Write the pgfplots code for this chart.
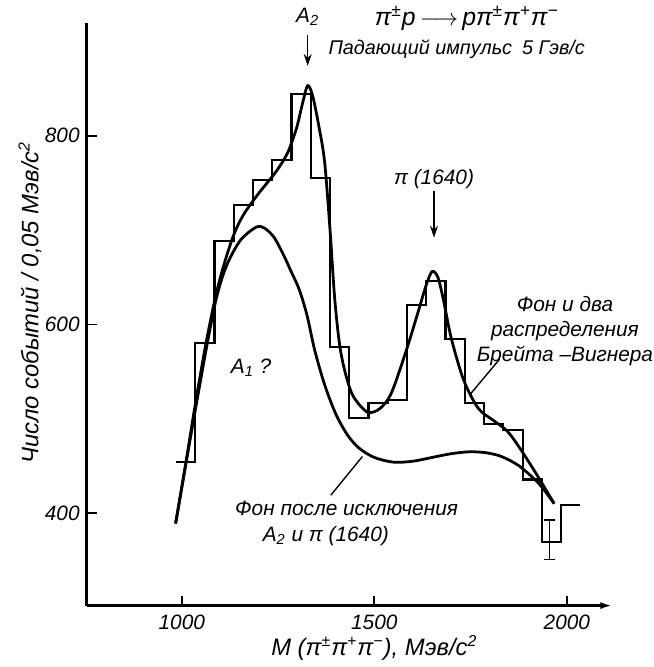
\documentclass[border=0pt]{standalone}
\usepackage{pgfplots}
\pgfplotsset{compat=1.18}
\usepackage{pgfplotstable}
\usepackage{fontspec}
\setmainfont{Liberation Sans}
\usetikzlibrary{arrows.meta}

% histogram: left bin edges, last row closes the last bin
\pgfplotstableread{
x y
985 454.6
1035 580.6
1085 688.7
1135 726.5
1185 752.8
1235 773.8
1285 844.1
1335 754.9
1385 576.4
1435 500.8
1485 516.5
1535 519.7
1585 620.5
1635 645.7
1685 584.8
1735 516.5
1785 494.5
1835 488.2
1885 435.7
1935 369.6
1985 408.4
2035 408.4
}\hist

% background + two Breit-Wigner fit
\pgfplotstableread{
x y
984 389
1010 452
1035 515
1062 578
1088 630
1110 664
1135 695
1160 716
1198 738
1245 762
1275 782
1298 808
1314 835
1327 853
1340 842
1356 810
1371 772
1385 700
1397 628
1410 578
1425 548
1445 524
1482 507
1515 511
1545 528
1585 575
1615 615
1635 642
1650 656
1665 650
1680 625
1700 585
1732 541
1770 511
1810 498
1845 487
1876 470
1920 442
1967 410
}\fit

% background after removing A2 and pi(1640)
\pgfplotstableread{
x y
984 389
1023 481
1064 575
1090 628
1116 662
1152 689
1193 703
1215 702
1240 692
1265 673
1284 656
1305 637
1325 610
1345 573
1371 536
1400 505
1430 483
1460 469
1500 459
1550 454
1600 455
1650 459
1700 463
1747 465
1790 464
1830 460
1876 450
1928 431
1967 410
}\bg

\begin{document}
\begin{tikzpicture}[font=\itshape\fontsize{10.5}{12.5}\selectfont]
\begin{axis}[
  scale only axis, width=265pt, height=293.5pt,
  xmin=753, xmax=2118, ymin=302, ymax=919,
  axis lines=left,
  axis line style={line width=1.2pt},
  x axis line style={-{Latex[length=6pt,width=3.5pt]}},
  y axis line style={-},
  tick align=inside, major tick length=5pt,
  tick style={line width=0.9pt, black},
  xtick={1000,1500,2000}, ytick={400,600,800},
  ticklabel style={font=\itshape\fontsize{10.5}{12.5}\selectfont},
  xticklabel style={yshift=-1pt},
  /pgf/number format/assume math mode=true,
  /pgf/number format/set thousands separator={},
  clip=false,
]
\path (axis cs:528,243) rectangle (axis cs:2216,943);

\addplot[const plot, black, line width=1.1pt] table {\hist};
\addplot[smooth, black, line width=1.4pt] table {\fit};
\addplot[smooth, black, line width=1.4pt] table {\bg};
\addplot[black, mark=none,
  error bars/.cd, y dir=both, y explicit,
  error bar style={line width=0.8pt},
  error mark options={rotate=90, mark size=3pt, line width=0.8pt}]
  coordinates {(1955,372) +- (0,21)};

\node[font=\itshape\fontsize{12.5}{14}\selectfont] at (axis cs:1740,924) {π\textsuperscript{±}p\,$\longrightarrow$\,pπ\textsuperscript{±}π\textsuperscript{+}π\textsuperscript{−}};
\node[font=\itshape\fontsize{10}{12}\selectfont] at (axis cs:1714,892) {Падающий импульс\enspace 5 Гэв/с};
\node at (axis cs:1327,926) {A\textsubscript{2}};
\draw[line width=0.8pt, -{Stealth[length=6pt,width=4pt]}] (axis cs:1327,907) -- (axis cs:1327,874);
\node at (axis cs:1655,754) {π (1640)};
\draw[line width=0.8pt, -{Stealth[length=6pt,width=4pt]}] (axis cs:1655,741) -- (axis cs:1655,692);
\node at (axis cs:1180,554) {A\textsubscript{1} ?};
\node[align=center, inner sep=0pt] at (axis cs:1995,593) {Фон и два\\распределения\\Брейта –Вигнера};
\draw[line width=0.7pt] (axis cs:1747,525) -- (axis cs:1825,563);
\node at (axis cs:1428,405) {Фон после исключения};
\node at (axis cs:1374,376) {A\textsubscript{2} и π (1640)};
\draw[line width=0.7pt] (axis cs:1387,419) -- (axis cs:1469,460);
\node[font=\itshape\fontsize{12}{14}\selectfont] at (axis cs:1500,257) {M (π\textsuperscript{±}π\textsuperscript{+}π\textsuperscript{−}), Мэв/с\textsuperscript{2}};
\node[rotate=90, font=\itshape\fontsize{12}{14}\selectfont] at (axis cs:606,623) {Число событий / 0,05 Мэв/с\textsuperscript{2}};
\end{axis}
\end{tikzpicture}
\end{document}
